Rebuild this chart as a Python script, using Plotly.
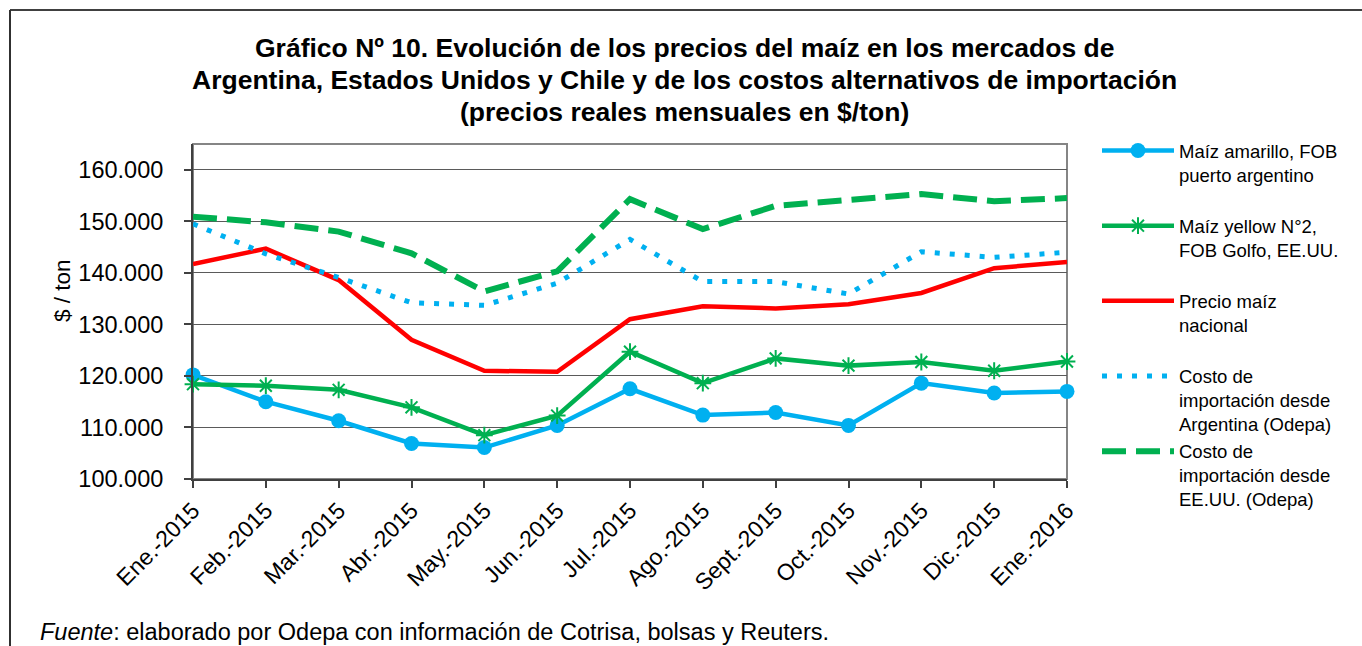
import plotly.graph_objects as go

months = [
    "Ene.-2015", "Feb.-2015", "Mar.-2015", "Abr.-2015", "May.-2015", "Jun.-2015",
    "Jul.-2015", "Ago.-2015", "Sept.-2015", "Oct.-2015", "Nov.-2015", "Dic.-2015",
    "Ene.-2016",
]

fob_argentina = [120200, 115000, 111300, 106900, 106100, 110400, 117500,
                 112400, 112900, 110400, 118600, 116700, 117000]
fob_golfo = [118400, 118100, 117300, 113900, 108500, 112300, 124700,
             118600, 123400, 122000, 122700, 121000, 122800]
precio_nacional = [141700, 144700, 138600, 127000, 121000, 120800, 131000,
                   133500, 133100, 133900, 136100, 140900, 142100]
importacion_arg = [149500, 143700, 139100, 134200, 133700, 138000, 146500,
                   138300, 138300, 135900, 144100, 143000, 144000]
importacion_eeuu = [150900, 149800, 148000, 143800, 136400, 140300, 154300,
                    148500, 153000, 154200, 155300, 153900, 154500]

BLUE = "#00B0F0"
GREEN = "#00B050"
RED = "#FF0000"
FONT = "Arial, Liberation Sans, sans-serif"

W, H = 1362, 646
L, R, T, B = 193, 1067, 144, 479  # plot area in pixels


def px(x):
    return (x - L) / (R - L)


def py(y):
    return (B - y) / (B - T)


fig = go.Figure()
fig.add_trace(go.Scatter(
    x=months, y=fob_argentina, mode="lines+markers",
    name="Maíz amarillo, FOB<br>puerto argentino<br> ",
    line={"color": BLUE, "width": 4.5},
    marker={"color": BLUE, "size": 15, "symbol": "circle"},
    cliponaxis=False,
))
fig.add_trace(go.Scatter(
    x=months, y=fob_golfo, mode="lines+markers",
    name="Maíz yellow N°2,<br>FOB Golfo, EE.UU.<br> ",
    line={"color": GREEN, "width": 4.5},
    marker={"color": GREEN, "size": 14, "symbol": "asterisk-open",
            "line": {"color": GREEN, "width": 2}},
    cliponaxis=False,
))
fig.add_trace(go.Scatter(
    x=months, y=precio_nacional, mode="lines",
    name="Precio maíz<br>nacional<br> ",
    line={"color": RED, "width": 4.5},
    cliponaxis=False,
))
fig.add_trace(go.Scatter(
    x=months, y=importacion_arg, mode="lines",
    name="Costo de<br>importación desde<br>Argentina (Odepa)",
    line={"color": BLUE, "width": 5, "dash": "5px,10px"},
    cliponaxis=False,
))
fig.add_trace(go.Scatter(
    x=months, y=importacion_eeuu, mode="lines",
    name="Costo de<br>importación desde<br>EE.UU. (Odepa)",
    line={"color": GREEN, "width": 6, "dash": "24px,10px"},
    cliponaxis=False,
))

title_lines = [
    ("Gráfico Nº 10. Evolución de los precios del maíz en los mercados de", 48),
    ("Argentina, Estados Unidos y Chile y de los costos alternativos de importación", 80),
    ("(precios reales mensuales en $/ton)", 112),
]
annotations = [
    dict(text=f"<b>{t}</b>", x=px(684), y=py(y), xref="paper", yref="paper",
         xanchor="center", yanchor="middle", showarrow=False,
         font={"size": 26.5, "color": "black", "family": FONT})
    for t, y in title_lines
]
annotations.append(dict(
    text="$ / ton", x=px(62), y=py(291), xref="paper", yref="paper",
    xanchor="center", yanchor="middle", textangle=-90, showarrow=False,
    font={"size": 22.5, "color": "black", "family": FONT},
))
annotations.append(dict(
    text="<i>Fuente</i>: elaborado por Odepa con información de Cotrisa, bolsas y Reuters.",
    x=px(38), y=py(632), xref="paper", yref="paper",
    xanchor="left", yanchor="middle", showarrow=False,
    font={"size": 23.5, "color": "black", "family": FONT},
))

shapes = [
    # outer chart frame (top and left edges visible)
    dict(type="line", xref="paper", yref="paper", x0=px(10), x1=px(1365),
         y0=py(10), y1=py(10), line={"color": "#404040", "width": 2}),
    dict(type="line", xref="paper", yref="paper", x0=px(10), x1=px(10),
         y0=py(10), y1=py(650), line={"color": "#303030", "width": 2}),
    # plot area border
    dict(type="rect", xref="paper", yref="paper", x0=0, x1=1, y0=0, y1=1,
         line={"color": "#858585", "width": 2}, layer="below"),
]

fig.update_layout(
    width=W, height=H,
    margin={"l": L, "r": W - R, "t": T, "b": H - B, "pad": 0},
    paper_bgcolor="white", plot_bgcolor="white",
    separators=",.",
    font={"family": FONT, "color": "black"},
    showlegend=True,
    legend={
        "x": px(1097), "y": py(132), "xanchor": "left", "yanchor": "top",
        "font": {"size": 18.5, "family": FONT, "color": "black"},
        "valign": "top", "itemwidth": 72, "tracegroupgap": 0,
        "bgcolor": "rgba(0,0,0,0)", "maxheight": 600,
    },
    annotations=annotations,
    shapes=shapes,
)
fig.update_xaxes(
    type="category", range=[0, len(months) - 1],
    showgrid=False, showline=True, linecolor="#404040", linewidth=2,
    ticks="outside", ticklen=7, tickcolor="#404040", tickwidth=1.5,
    tickangle=-45, tickfont={"size": 23, "family": FONT, "color": "black"},
    zeroline=False,
)
fig.update_yaxes(
    range=[100000, 165000], tickvals=[100000, 110000, 120000, 130000, 140000, 150000, 160000],
    tickformat=",d",
    showgrid=True, gridcolor="#5a5a5a", gridwidth=1,
    showline=True, linecolor="#404040", linewidth=2,
    ticks="outside", ticklen=7, tickcolor="#404040", tickwidth=1.5,
    ticklabelstandoff=16,
    tickfont={"size": 23.5, "family": FONT, "color": "black"},
    zeroline=False,
)

fig.write_html(
    "out.html",
    config={"displayModeBar": False},
    post_script="document.body.style.margin='0';document.body.style.overflow='hidden';",
)
